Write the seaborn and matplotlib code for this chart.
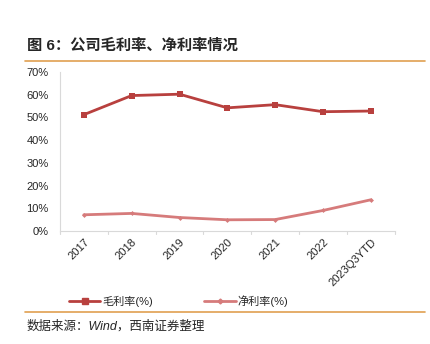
import matplotlib
matplotlib.use("Agg")
import matplotlib.pyplot as plt
import seaborn as sns
import pandas as pd
from matplotlib.ticker import PercentFormatter
from matplotlib.lines import Line2D

years = ["2017", "2018", "2019", "2020", "2021", "2022", "2023Q3YTD"]
gross_margin = [51.2, 59.6, 60.2, 54.2, 55.6, 52.5, 52.8]
net_margin = [7.2, 7.8, 6.0, 5.0, 5.1, 9.1, 13.8]
series_names = ["毛利率(%)", "净利率(%)"]
title = "图 6：公司毛利率、净利率情况"
source = "数据来源：Wind，西南证券整理"

sns.set_theme(style="white")
plt.rcParams['font.family'] = ['Liberation Sans', 'Noto Sans CJK SC', 'DejaVu Sans']

df = pd.DataFrame({
    "year": years * 2,
    "value": gross_margin + net_margin,
    "series": [series_names[0]] * len(years) + [series_names[1]] * len(years),
})

colors = {series_names[0]: "#B8403E", series_names[1]: "#D67B7B"}

fig = plt.figure(figsize=(4.31, 3.44), dpi=100)
ax = fig.add_axes([0.139, 0.328, 0.777, 0.463])

sns.lineplot(data=df, x="year", y="value", hue="series", style="series",
             palette=colors, markers={series_names[0]: "s", series_names[1]: "D"},
             dashes=False, markersize=4, linewidth=2, ax=ax, legend=False, sort=False)
for ln, ms in zip(ax.lines, [4.5, 2.5]):
    ln.set_markersize(ms)
    ln.set_markeredgewidth(0)

ax.set_xlim(-0.5, len(years) - 0.5)
ax.set_ylim(0, 70)
ax.set_yticks(range(0, 71, 10))
ax.yaxis.set_major_formatter(PercentFormatter(decimals=0))
ax.set_xlabel("")
ax.set_ylabel("")
ax.set_xticks([i for i in range(len(years))])
ax.set_xticklabels(years, rotation=45, ha="right", rotation_mode="anchor", fontsize=8)
ax.tick_params(axis="y", labelsize=8, pad=8, length=0)
ax.tick_params(axis="x", length=0, pad=4)
for i in range(len(years) + 1):
    ax.plot([i - 0.5, i - 0.5], [0, -1.2], color="#d9d9d9", lw=0.8, clip_on=False)
for s in ["top", "right"]:
    ax.spines[s].set_visible(False)
for s in ["left", "bottom"]:
    ax.spines[s].set_color("#d9d9d9")
    ax.spines[s].set_linewidth(0.8)
ax.grid(False)

handles = [Line2D([0], [0], color=colors[series_names[0]], lw=2, marker="s", markersize=4),
           Line2D([0], [0], color=colors[series_names[1]], lw=2, marker="D", markersize=2.5)]
fig.legend(handles, series_names, loc="center", bbox_to_anchor=(0.415, 0.125), ncol=2,
           frameon=False, fontsize=8, handlelength=2.8, columnspacing=4.6, handletextpad=0.2)

fig.text(0.062, 0.868, title, fontsize=11, fontweight="bold", va="center", ha="left")
fig.add_artist(Line2D([0.058, 0.985], [0.823, 0.823], color="#E0A050", lw=1.2))
fig.add_artist(Line2D([0.058, 0.985], [0.093, 0.093], color="#E0A050", lw=1.2))
fig.text(0.062, 0.052, source, fontsize=9, style="italic", va="center", ha="left")

fig.savefig("out.png", dpi=100)
